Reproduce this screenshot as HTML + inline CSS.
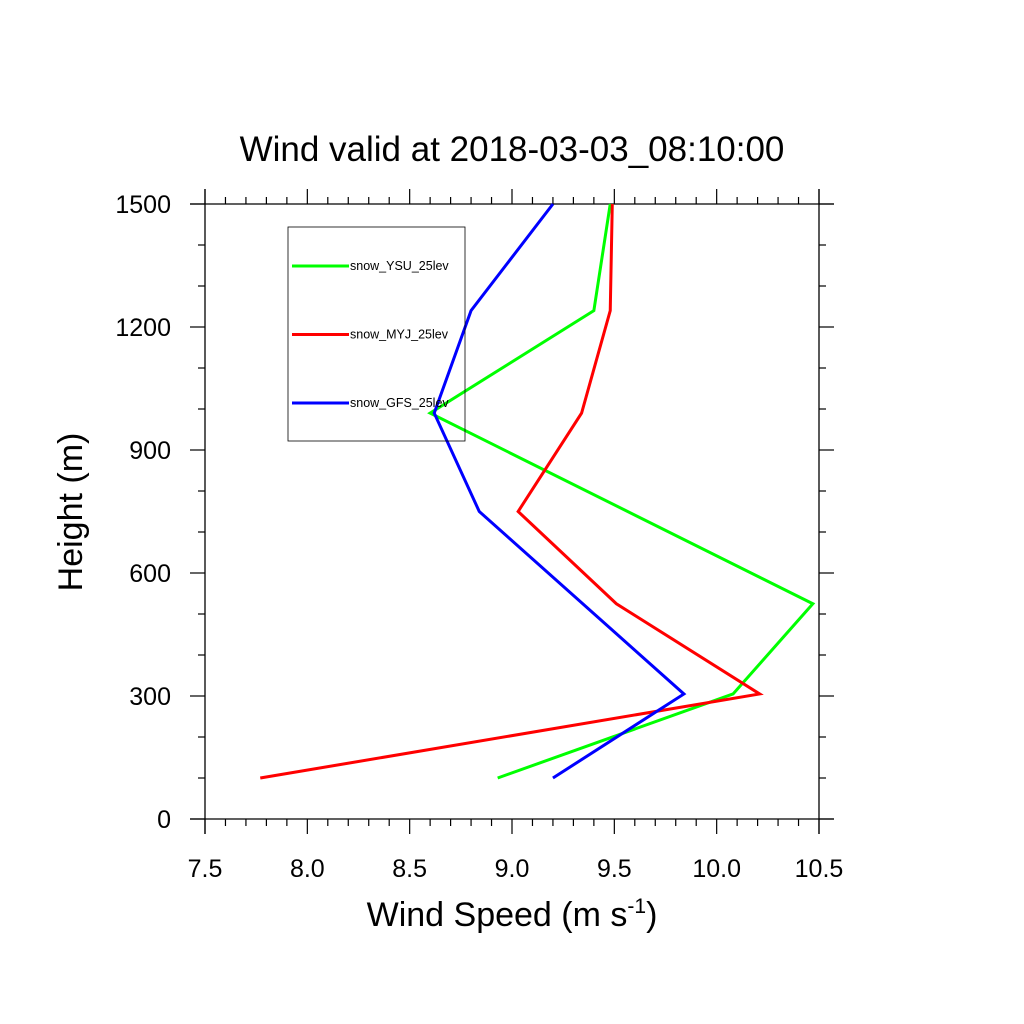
<!DOCTYPE html>
<html><head><meta charset="utf-8"><style>body{margin:0;background:#fff}svg{display:block}</style></head>
<body>
<svg id="chart" width="1024" height="1024" xmlns="http://www.w3.org/2000/svg" font-family="Liberation Sans, sans-serif">
<rect width="1024" height="1024" fill="#fff"/>
<text x="512" y="161" text-anchor="middle" font-size="35">Wind valid at 2018-03-03_08:10:00</text>
<text x="512" y="926" text-anchor="middle" font-size="34">Wind Speed (m s<tspan dy="-13" font-size="21">-1</tspan><tspan dy="13">)</tspan></text>
<text transform="translate(82,512) rotate(-90)" text-anchor="middle" font-size="34">Height (m)</text>
<g id="axes"></g>
<g id="series"></g>
<g id="legend"></g>
</svg>
<script>
const heights = [100, 305, 525, 750, 990, 1240, 1500];
const ysu = [8.93, 10.08, 10.47, null, 8.60, 9.40, 9.48];
const myj = [7.77, 10.21, 9.51, 9.03, 9.34, 9.48, 9.49];
const gfs = [9.20, 9.84, null, 8.84, 8.62, 8.80, 9.20];
const seriesNames = ["snow_YSU_25lev", "snow_MYJ_25lev", "snow_GFS_25lev"];
const xTicks = ["7.5","8.0","8.5","9.0","9.5","10.0","10.5"];
const yTicks = ["0","300","600","900","1200","1500"];
const X0=205,X1=819,Y0=819,Y1=204;
const xs=v=>X0+(v-7.5)/3*(X1-X0);
const ys=v=>Y0-v/1500*(Y0-Y1);
const NS="http://www.w3.org/2000/svg";
function mk(t,a,p){const e=document.createElementNS(NS,t);for(const k in a)e.setAttribute(k,a[k]);p.appendChild(e);return e;}
const ax=document.getElementById('axes');
const E=15;
[[X0-E,Y0,X1+E,Y0],[X0-E,Y1,X1+E,Y1],[X0,Y1-E,X0,Y0+E],[X1,Y1-E,X1,Y0+E]].forEach(c=>{
 const l=mk('line',{x1:c[0],y1:c[1],x2:c[2],y2:c[3],stroke:'#000','stroke-width':1.3},ax);
 
 });
for(let i=0;i<=30;i++){const v=7.5+i*0.1,x=xs(v),L=i%5==0?15:7;
 mk('line',{x1:x,x2:x,y1:Y0,y2:Y0+L,stroke:'#000','stroke-width':1.2},ax);
 mk('line',{x1:x,x2:x,y1:Y1,y2:Y1-L,stroke:'#000','stroke-width':1.2},ax);}
xTicks.forEach(t=>{const e=mk('text',{x:xs(parseFloat(t)),y:877,'text-anchor':'middle','font-size':25},ax);e.textContent=t;

});
for(let i=0;i<=15;i++){const y=ys(i*100),L=i%3==0?15:7;
 mk('line',{x1:X0,x2:X0-L,y1:y,y2:y,stroke:'#000','stroke-width':1.2},ax);
 mk('line',{x1:X1,x2:X1+L,y1:y,y2:y,stroke:'#000','stroke-width':1.2},ax);}
yTicks.forEach(t=>{const e=mk('text',{x:171,y:ys(parseFloat(t))+9,'text-anchor':'end','font-size':25},ax);e.textContent=t;

});
const colors=["#00ff00","#ff0000","#0000ff"];
const sg=document.getElementById('series');
[ysu,myj,gfs].forEach((s,k)=>{const pts=[];s.forEach((v,i)=>{if(v!==null)pts.push(xs(v)+','+ys(heights[i]));});
 const p=mk('polyline',{points:pts.join(' '),fill:'none',stroke:colors[k],'stroke-width':3,'stroke-linejoin':'miter'},sg);
 
 });
const lg=document.getElementById('legend');
const box=mk('rect',{x:288,y:227,width:177,height:214,fill:'none',stroke:'#000','stroke-width':0.8},lg);


seriesNames.forEach((n,k)=>{const y=266+k*68.5;
 const l=mk('line',{x1:292,x2:349,y1:y,y2:y,stroke:colors[k],'stroke-width':3},lg);
 
 
 const t=mk('text',{x:350,y:y+4,'font-size':12.5},lg);t.textContent=n;
 
 });
</script>
</body></html>
